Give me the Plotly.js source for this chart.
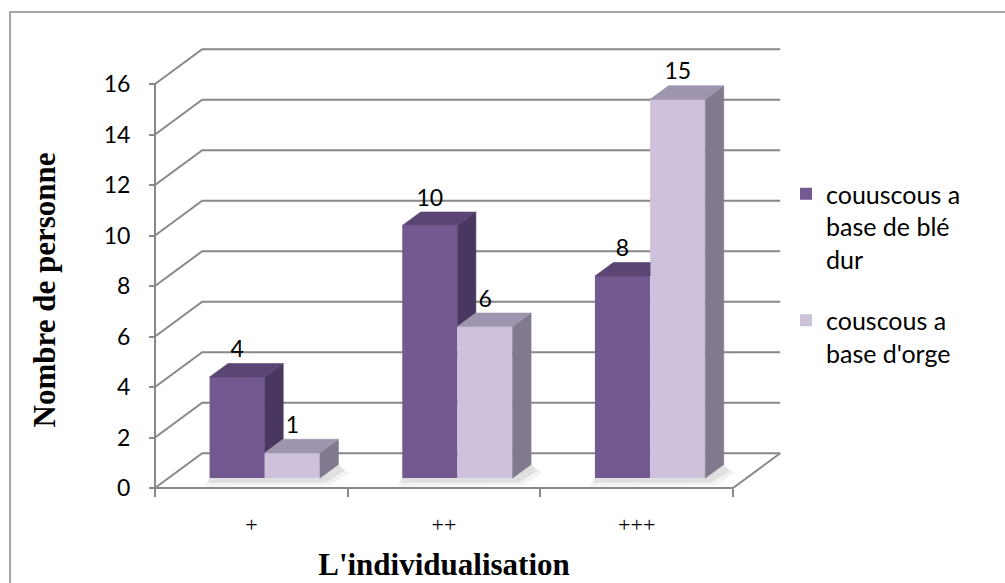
<!DOCTYPE html>
<html><head><meta charset="utf-8">
<script src="https://cdn.plot.ly/plotly-3.0.1.min.js"></script>
<style>html,body{margin:0;padding:0;background:#fff}#chart{width:1005px;height:583px}</style>
</head><body><div id="chart"></div>
<script>
// ---------- data ----------
const categories = ['+', '++', '+++'];
const seriesNames = ['couuscous a<br>base de blé<br>dur', "couscous a<br>base d'orge"];
const wheatValues = [4, 10, 8];
const barleyValues = [1, 6, 15];
const yTickValues = [0, 2, 4, 6, 8, 10, 12, 14, 16];

// ---------- geometry / style ----------
const W = 1005, H = 583;
const ML = 88, MR = 205, MT = 30, MB = 33;
const PX0 = 155, PY0 = 488;      // pixel of the front-left-bottom corner
const U = 192.67, V = 25.25;     // px per category, px per unit
const plotW = W - ML - MR, plotH = H - MT - MB;
const xRange = [-0.5 - (PX0 - ML) / U, -0.5 + (W - MR - PX0) / U];
const yRange = [-(H - MB - PY0) / V, (PY0 - MT) / V];
const DX = 47.2 / U, DY = 34.8 / V;          // depth of the floor / wall
const BW = 55.2 / U;                          // bar width
const F0 = 0.285, FD = 0.39;                  // bar front depth, bar depth (fractions)
const S = F0 * DX, B = F0 * DY, ddx = FD * DX, ddy = FD * DY;
const LABEL_OFF = 25.7 / V;
const xL = -0.5, xR = categories.length - 0.5;
const yMax = yTickValues[yTickValues.length - 1];
const GRID = '#888888';
const C = {
  p: {front: '#72598F', side: '#48375E', top: '#5A4574'},
  l: {front: '#CDC1DC', side: '#817A8E', top: '#9F94AD'}
};

const idx = categories.map((_, i) => i);

function poly(pts, color) {
  return {
    type: 'scatter', mode: 'lines', x: pts.map(p => p[0]).concat([pts[0][0]]),
    y: pts.map(p => p[1]).concat([pts[0][1]]), fill: 'toself', fillcolor: color,
    line: {color: color, width: 0.6}, hoverinfo: 'skip', showlegend: false
  };
}

const traces = [];
// front faces
traces.push({
  type: 'bar', name: seriesNames[0], legendgroup: 'a', x: idx, y: wheatValues, base: B,
  width: BW, offset: S - BW, marker: {color: C.p.front, line: {width: 0}}, hoverinfo: 'skip'
});
traces.push({
  type: 'bar', name: seriesNames[1], legendgroup: 'b', x: idx, y: barleyValues, base: B,
  width: BW, offset: S, marker: {color: C.l.front, line: {width: 0}}, hoverinfo: 'skip'
});

// sides and tops
idx.forEach(i => {
  const vp = wheatValues[i], vl = barleyValues[i];
  const pxl = i + S - BW, pxr = i + S;
  const lxl = pxr, lxr = i + S + BW;
  const k = ddy / ddx;
  if (vp > vl) {
    traces.push(poly([[pxr, B + vl], [pxr + ddx, B + vl + ddy], [pxr + ddx, B + vp + ddy], [pxr, B + vp]], C.p.side));
  }
  let top;
  if (vl <= vp) {
    top = [[pxl, B + vp], [pxl + ddx, B + vp + ddy], [pxr + ddx, B + vp + ddy], [pxr, B + vp]];
  } else if (vl >= vp + ddy) {
    top = [[pxl, B + vp], [pxl + ddx, B + vp + ddy], [pxr, B + vp + ddy], [pxr, B + vp]];
  } else {
    const m = (vp + ddy - vl) / k;
    top = [[pxl, B + vp], [pxl + ddx, B + vp + ddy], [pxr + m, B + vp + ddy], [pxr, B + vl], [pxr, B + vp]];
  }
  traces.push(poly(top, C.p.top));
  traces.push(poly([[lxr, B], [lxr + ddx, B + ddy], [lxr + ddx, B + vl + ddy], [lxr, B + vl]], C.l.side));
  traces.push(poly([[lxl, B + vl], [lxl + ddx, B + vl + ddy], [lxr + ddx, B + vl + ddy], [lxr, B + vl]], C.l.top));
});

// data labels
traces.push({
  type: 'scatter', mode: 'text', x: idx.map(i => i + S - BW / 2), y: wheatValues.map(v => B + v + LABEL_OFF),
  text: wheatValues.map(String), textposition: 'middle center', cliponaxis: false,
  textfont: {family: 'Lato', size: 23, color: '#000'}, hoverinfo: 'skip', showlegend: false
});
traces.push({
  type: 'scatter', mode: 'text', x: idx.map(i => i + S + BW / 2), y: barleyValues.map(v => B + v + LABEL_OFF),
  text: barleyValues.map(String), textposition: 'middle center', cliponaxis: false,
  textfont: {family: 'Lato', size: 23, color: '#000'}, hoverinfo: 'skip', showlegend: false
});

// ---------- shapes: walls, floor, shadows, frame ----------
const shapes = [];
shapes.push({type: 'rect', xref: 'paper', yref: 'paper', layer: 'below',
  x0: (10 - ML) / plotW, x1: (W + 10 - ML) / plotW, y0: (H - MB - (H + 10)) / plotH, y1: (H - MB - 12) / plotH,
  line: {color: '#8a8a8a', width: 1.5}, fillcolor: 'rgba(0,0,0,0)'});
yTickValues.forEach(v => {
  shapes.push({type: 'path', layer: 'below', xref: 'x', yref: 'y',
    path: `M${xL},${v} L${xL + DX},${v + DY} L${xR + DX},${v + DY}`, line: {color: GRID, width: 2}});
});
shapes.push({type: 'line', layer: 'below', xref: 'x', yref: 'y', x0: xL, y0: 0, x1: xL, y1: yMax, line: {color: GRID, width: 2}});
shapes.push({type: 'line', layer: 'below', xref: 'x', yref: 'y', x0: xL, y0: 0, x1: xR, y1: 0, line: {color: GRID, width: 2}});
shapes.push({type: 'line', layer: 'below', xref: 'x', yref: 'y', x0: xR, y0: 0, x1: xR + DX, y1: DY, line: {color: GRID, width: 2}});
idx.forEach(i => {
  const xl = i + S - BW, xr = i + S + BW;
  shapes.push({type: 'path', layer: 'below', xref: 'x', yref: 'y', line: {width: 0}, fillcolor: 'rgba(0,0,0,0.05)',
    path: `M${xl - 0.03},${B - 0.33} L${xr + 0.05},${B - 0.3} L${xr + ddx + 0.06},${B + ddy * 0.4} L${xr + ddx},${B + ddy} L${xl},${B} Z`});
  shapes.push({type: 'path', layer: 'below', xref: 'x', yref: 'y', line: {width: 0}, fillcolor: 'rgba(0,0,0,0.07)',
    path: `M${xl - 0.01},${B - 0.18} L${xr + 0.03},${B - 0.18} L${xr + ddx + 0.03},${B + ddy * 0.5} L${xr + ddx},${B + ddy} L${xl},${B} Z`});
});

const layout = {
  width: W, height: H, margin: {l: ML, r: MR, t: MT, b: MB},
  paper_bgcolor: '#fff', plot_bgcolor: 'rgba(0,0,0,0)',
  barmode: 'overlay', hovermode: false,
  xaxis: {
    anchor: 'free', position: (H - MB - PY0) / plotH, range: xRange, tickmode: 'array',
    tickvals: idx, ticktext: categories, ticks: '', showgrid: false, zeroline: false, showline: false,
    minor: {tickmode: 'array', tickvals: idx.map(i => i - 0.5).concat([xR]), ticks: 'outside', ticklen: 8, tickwidth: 2, tickcolor: GRID, showgrid: false},
    tickfont: {family: 'Liberation Serif', size: 22, color: '#000'}, ticklabelstandoff: 21,
    title: {text: "L'individualisation", font: {family: 'Liberation Serif', size: 31, color: '#000', weight: 700}, standoff: 17}
  },
  yaxis: {
    anchor: 'free', position: (PX0 - ML) / plotW, range: yRange, tickmode: 'array', tickvals: yTickValues,
    ticks: 'outside', ticklen: 6, tickwidth: 2, tickcolor: GRID, showgrid: false, zeroline: false, showline: false,
    tickfont: {family: 'Lato', size: 23, color: '#000'}, ticklabelstandoff: 14,
    title: {text: 'Nombre de personne', font: {family: 'Liberation Serif', size: 31, color: '#000', weight: 700}, standoff: 37}
  },
  legend: {
    x: (786 - ML) / plotW, xanchor: 'left', y: (H - MB - 171) / plotH, yanchor: 'top',
    font: {family: 'Lato', size: 25, color: '#000'}, valign: 'top', traceorder: 'grouped', tracegroupgap: 26,
    bgcolor: 'rgba(0,0,0,0)', borderwidth: 0
  },
  shapes: shapes
};

Plotly.newPlot('chart', traces, layout, {displayModeBar: false, staticPlot: true});
</script>
</body></html>
